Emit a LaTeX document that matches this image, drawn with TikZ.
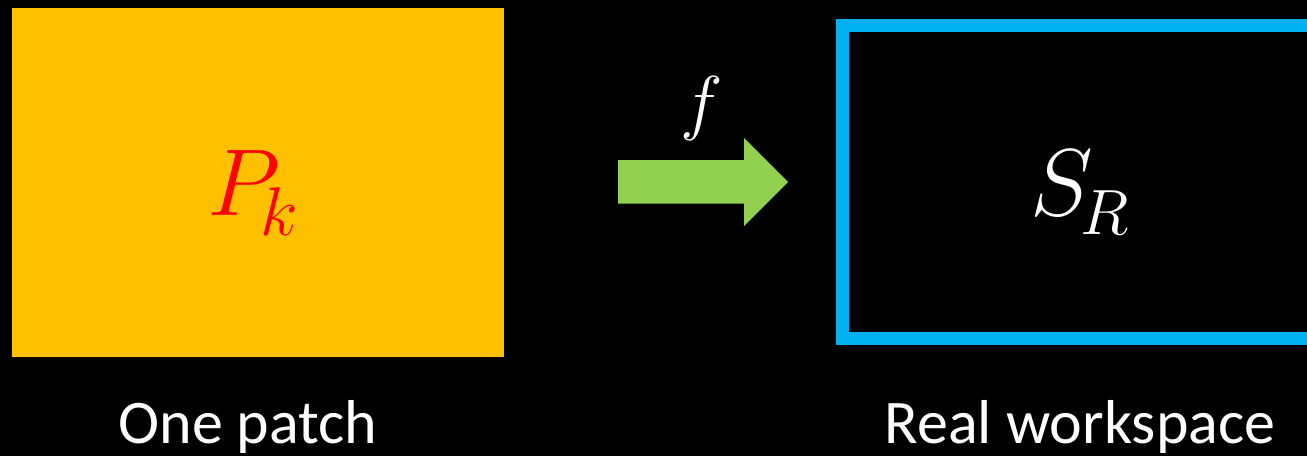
\RequirePackage{fix-cm}
\documentclass[tikz,border=0pt]{standalone}
\usepackage{fontspec}
\setmainfont{Carlito}
\definecolor{patchorange}{HTML}{FFC000}
\definecolor{wsblue}{HTML}{00B0F0}
\definecolor{arrgreen}{HTML}{92D050}
\begin{document}
\begin{tikzpicture}[x=1pt,y=-1pt,
  caption/.style={text=white,font=\fontsize{62}{62}\selectfont,anchor=base,inner sep=0pt},
  mathlbl/.style={anchor=base west,inner sep=0pt,font=\fontsize{95}{95}\selectfont}]
\clip (0,0) rectangle (1307,456);
\fill[black] (0,0) rectangle (1307,456);
% patch
\fill[patchorange] (12,8) rectangle (504,357);
% workspace
\draw[wsblue,line width=13pt] (842,25.5) rectangle (1330,338.5);
% arrow
\coordinate (a1) at (618,160);
\coordinate (a2) at (744,160);
\coordinate (a3) at (744,138);
\coordinate (a4) at (788,182);
\coordinate (a5) at (744,226);
\coordinate (a6) at (744,203.5);
\coordinate (a7) at (618,203.5);
\fill[arrgreen] (a1) -- (a2) -- (a3) -- (a4) -- (a5) -- (a6) -- (a7) -- cycle;
% labels
\node[mathlbl,text=red] (pk) at (207,215) {$P$\kern-20pt\raisebox{-20pt}{\fontsize{69}{69}\selectfont$k$}};
\node[mathlbl,text=white] (sr) at (1030,215) {$S$\kern-12pt\raisebox{-19pt}{\fontsize{64}{64}\selectfont$R$}};
\node[mathlbl,text=white,font=\fontsize{72}{72}\selectfont] (f) at (680,126) {$f$};
\node[caption] (c1) at (248,443) {One patch};
\node[caption] (c2) at (1080,443) {Real workspace};
\end{tikzpicture}
\end{document}
